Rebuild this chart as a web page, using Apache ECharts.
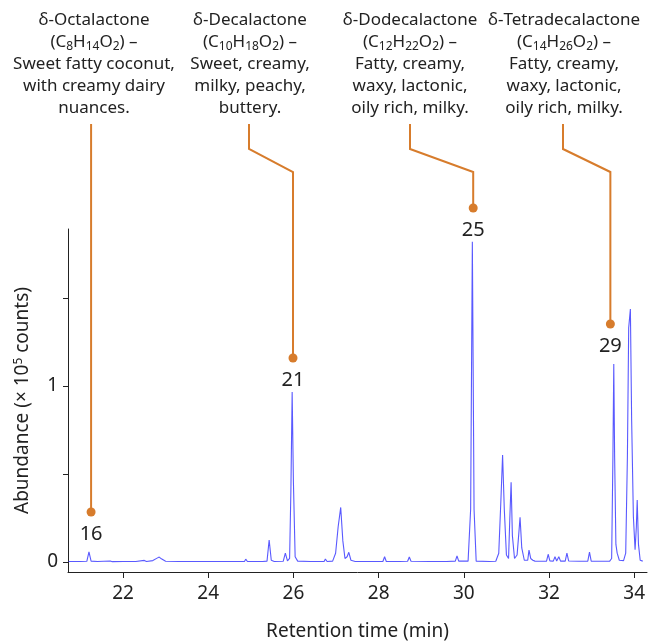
<!DOCTYPE html>
<html><head><meta charset="utf-8">
<script src="https://cdn.jsdelivr.net/npm/echarts@6/dist/echarts.min.js"></script>
<style>html,body{margin:0;padding:0;background:#fff}#c{width:649px;height:643px}</style>
</head><body><div id="c"></div>
<script>
// Chromatogram (retention time in min, abundance in 1e5 counts)
const retentionTime = [
  20.72, 21.0, 21.15, 21.2, 21.25, 21.4, 21.7, 21.75, 22.0, 22.3, 22.5, 22.55, 22.7, 22.8, 22.85, 22.9, 23.0,
  23.3, 23.65, 23.68, 23.72, 24.0, 24.37, 24.39, 24.42, 24.7, 24.85, 24.88, 24.92, 25.2, 25.24, 25.28,
  25.38, 25.43, 25.48, 25.55, 25.76, 25.81, 25.86, 25.91, 25.94, 25.97, 26.0, 26.04, 26.1, 26.4,
  26.72, 26.75, 26.79, 26.92, 26.99, 27.05, 27.11, 27.16, 27.21, 27.26, 27.3, 27.35, 27.45,
  27.85, 27.88, 27.92, 28.1, 28.14, 28.18, 28.5, 28.68, 28.72, 28.76, 29.2, 29.6, 29.8, 29.84, 29.88,
  30.1, 30.16, 30.2, 30.24, 30.29, 30.6, 30.75, 30.82, 30.87, 30.91, 30.95, 31.0, 31.05, 31.08, 31.11,
  31.14, 31.19, 31.25, 31.29, 31.32, 31.36, 31.42, 31.5, 31.53, 31.57, 31.62, 31.67, 31.71, 31.75,
  31.94, 31.98, 32.02, 32.1, 32.14, 32.18, 32.23, 32.27, 32.38, 32.42, 32.46, 32.7, 32.91, 32.95, 32.99,
  33.2, 33.42, 33.47, 33.5, 33.52, 33.54, 33.57, 33.6, 33.65, 33.75, 33.8, 33.84, 33.87, 33.91, 33.94,
  33.98, 34.02, 34.05, 34.07, 34.1, 34.14, 34.2
];
const abundance = [
  0.003, 0.003, 0.004, 0.058, 0.005, 0.003, 0.006, 0.002, 0.003, 0.003, 0.009, 0.003, 0.008, 0.022, 0.028, 0.018, 0.004,
  0.003, 0.003, 0.010, 0.003, 0.003, 0.003, 0.009, 0.003, 0.003, 0.003, 0.016, 0.003, 0.003, 0.010, 0.003,
  0.005, 0.125, 0.010, 0.003, 0.004, 0.050, 0.006, 0.020, 0.400, 0.966, 0.450, 0.030, 0.005, 0.003,
  0.003, 0.017, 0.003, 0.005, 0.050, 0.200, 0.310, 0.120, 0.020, 0.030, 0.055, 0.010, 0.003,
  0.003, 0.010, 0.003, 0.003, 0.030, 0.003, 0.003, 0.004, 0.028, 0.004, 0.003, 0.003, 0.005, 0.034, 0.005,
  0.005, 0.300, 1.820, 0.300, 0.005, 0.003, 0.004, 0.050, 0.350, 0.608, 0.300, 0.040, 0.020, 0.250, 0.453,
  0.150, 0.020, 0.040, 0.160, 0.254, 0.080, 0.010, 0.010, 0.068, 0.020, 0.010, 0.005, 0.014, 0.004,
  0.004, 0.044, 0.006, 0.005, 0.030, 0.006, 0.030, 0.005, 0.005, 0.050, 0.006, 0.004, 0.005, 0.056, 0.005,
  0.004, 0.004, 0.020, 0.600, 1.125, 0.600, 0.100, 0.050, 0.010, 0.008, 0.050, 0.600, 1.330, 1.437, 0.800,
  0.260, 0.070, 0.200, 0.352, 0.100, 0.010, 0.005
];
const xTicks = [22, 24, 26, 28, 30, 32, 34];
const yTicks = [0, 0.5, 1, 1.5];
const yLabels = [0, 1];

// Annotated peaks
const peakNumbers = ['16', '21', '25', '29'];
const peakDotTime = [21.25, 25.99, 30.22, 33.44];
const peakDotAbundance = [0.284, 1.159, 2.011, 1.352];
const compoundNames = ['δ-Octalactone', 'δ-Decalactone', 'δ-Dodecalactone', 'δ-Tetradecalactone'];
const formulas = ['(C{s|8}H{s|14}O{s|2}) –', '(C{s|10}H{s|18}O{s|2}) –', '(C{s|12}H{s|22}O{s|2}) –', '(C{s|14}H{s|26}O{s|2}) –'];
const odourNotes = [
  ['Sweet fatty coconut,', 'with creamy dairy', 'nuances.'],
  ['Sweet, creamy,', 'milky, peachy,', 'buttery.'],
  ['Fatty, creamy,', 'waxy, lactonic,', 'oily rich, milky.'],
  ['Fatty, creamy,', 'waxy, lactonic,', 'oily rich, milky.']
];

const FONT = 'Noto Sans';
const TXT = '#222';
const ORANGE = '#D77C2C';

const chart = echarts.init(document.getElementById('c'), null, {renderer: 'canvas'});
const option = {
  animation: false,
  textStyle: {fontFamily: FONT},
  grid: {left: 68, right: 2, top: 229, bottom: 71, containLabel: false, outerBoundsMode: 'none'},
  xAxis: {
    type: 'value', min: 20.708, max: 34.3,
    axisLine: {show: true, onZero: false, lineStyle: {color: '#222', width: 1}},
    axisTick: {show: true, customValues: xTicks, length: 6, lineStyle: {color: '#222'}},
    axisLabel: {customValues: xTicks, fontSize: 19, color: TXT, margin: 12, fontFamily: FONT},
    splitLine: {show: false},
    name: 'Retention time (min)', nameLocation: 'middle', nameGap: 50,
    nameTextStyle: {fontSize: 19, color: TXT, fontFamily: FONT}
  },
  yAxis: {
    type: 'value', min: -0.0568, max: 1.892,
    axisLine: {show: true, onZero: false, lineStyle: {color: '#222', width: 1}},
    axisTick: {show: true, customValues: yTicks, length: 5, lineStyle: {color: '#222'}},
    axisLabel: {customValues: yLabels, fontSize: 19, color: TXT, margin: 10, fontFamily: FONT},
    splitLine: {show: false},
    name: 'Abundance (× 10{sup|5} counts)', nameLocation: 'middle', nameGap: 36,
    nameTextStyle: {fontSize: 19, color: TXT, fontFamily: FONT,
      rich: {sup: {fontSize: 12, color: TXT, fontFamily: FONT, verticalAlign: 'top', lineHeight: 10}}}
  },
  series: [{
    type: 'line',
    data: retentionTime.map((t, i) => [t, abundance[i]]),
    showSymbol: false,
    lineStyle: {color: 'rgba(60,60,255,0.85)', width: 1.1},
    silent: true
  }]
};
chart.setOption(option);

// Annotation layout (pixel layout for the text blocks and leader-line elbows)
const blockCenterX = [94, 250, 410, 564];
const blockTopY = 9;
const leaderTop = 124, leaderElbow = 149, leaderJog = 172;
const leaderTopX = [null, 249, 410, 563];

const graphics = [];
peakNumbers.forEach((num, i) => {
  const p = chart.convertToPixel({gridIndex: 0}, [peakDotTime[i], peakDotAbundance[i]]);
  const tx = leaderTopX[i] == null ? p[0] : leaderTopX[i];
  graphics.push({
    type: 'polyline', silent: true,
    shape: {points: [[tx, leaderTop], [tx, leaderElbow], [p[0], leaderJog], [p[0], p[1]]]},
    style: {stroke: ORANGE, lineWidth: 2, fill: null}
  });
  graphics.push({type: 'circle', silent: true, shape: {cx: p[0], cy: p[1], r: 4.5}, style: {fill: ORANGE}});
  graphics.push({
    type: 'text', silent: true, x: p[0], y: p[1] + 22,
    style: {text: num, fontSize: 20, fontFamily: FONT, fill: TXT, align: 'center', verticalAlign: 'middle'}
  });
  const txt = [compoundNames[i], formulas[i]].concat(odourNotes[i]).join('\n');
  graphics.push({
    type: 'text', silent: true, x: blockCenterX[i], y: blockTopY,
    style: {
      text: txt, fontSize: 17, fontFamily: FONT, fill: TXT, align: 'center', verticalAlign: 'top', lineHeight: 22,
      rich: {s: {fontSize: 12, fontFamily: FONT, fill: TXT, verticalAlign: 'bottom', lineHeight: 10}}
    }
  });
});
chart.setOption({graphic: graphics});
</script></body></html>
